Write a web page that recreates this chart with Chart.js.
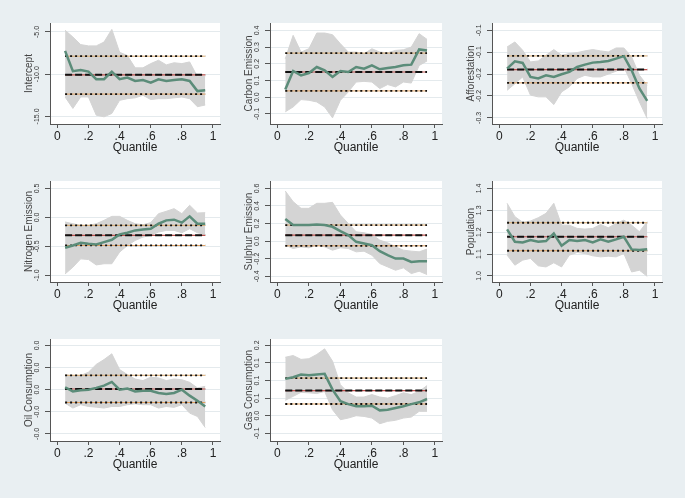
<!DOCTYPE html>
<html>
<head>
<meta charset="utf-8">
<script src="https://cdn.jsdelivr.net/npm/chart.js@4.4.1/dist/chart.umd.min.js"></script>
<style>
  html, body { margin: 0; padding: 0; background: #e9eff2; }
  body { width: 685px; height: 498px; position: relative; overflow: hidden; }
  canvas { position: absolute; }
</style>
</head>
<body>
<script>
// ---- data ----
const quantiles = [0.05, 0.10, 0.15, 0.20, 0.25, 0.30, 0.35, 0.40, 0.45, 0.50,
                   0.55, 0.60, 0.65, 0.70, 0.75, 0.80, 0.85, 0.90, 0.95];
const xTickValues = [0, 0.2, 0.4, 0.6, 0.8, 1];
const xTickLabels = ["0", ".2", ".4", ".6", ".8", "1"];

const titles = ["Intercept", "Carbon Emission", "Afforestation", "Nitrogen Emission",
                "Sulphur Emission", "Population", "Oil Consumption", "Gas Consumption"];

const interceptCoef  = [-7.24, -9.65, -9.5, -9.7, -10.6, -10.6, -9.7, -10.6, -10.4, -10.8, -10.7, -11.0, -10.6, -10.8, -10.7, -10.6, -10.8, -12.0, -11.9];
const interceptUpper = [-4.8, -5.6, -6.5, -6.65, -6.65, -6.2, -4.7, -7.4, -7.8, -9.25, -9.25, -8.75, -8.35, -8.9, -8.65, -8.75, -8.55, -10.3, -10.25];
const interceptLower = [-12.7, -14.05, -12.7, -12.7, -14.85, -15.05, -14.65, -13.1, -12.9, -12.8, -12.5, -13.0, -12.9, -12.9, -12.8, -12.7, -12.9, -13.85, -13.65];

const carbonCoef  = [0.046, 0.157, 0.131, 0.145, 0.181, 0.161, 0.121, 0.157, 0.151, 0.181, 0.171, 0.191, 0.167, 0.175, 0.181, 0.191, 0.195, 0.286, 0.28];
const carbonUpper = [0.23, 0.37, 0.27, 0.29, 0.384, 0.384, 0.374, 0.32, 0.27, 0.27, 0.26, 0.29, 0.27, 0.266, 0.28, 0.284, 0.30, 0.38, 0.346];
const carbonLower = [-0.087, -0.058, -0.014, -0.018, -0.028, -0.058, -0.123, -0.018, 0.032, 0.091, 0.095, 0.091, 0.052, 0.076, 0.062, 0.091, 0.085, 0.19, 0.217];

const forestCoef  = [-0.1375, -0.1207, -0.1245, -0.1565, -0.160, -0.1527, -0.1565, -0.1504, -0.145, -0.1337, -0.1283, -0.1238, -0.1222, -0.12, -0.1146, -0.109, -0.1413, -0.183, -0.2112];
const forestUpper = [-0.088, -0.0766, -0.0956, -0.1222, -0.12, -0.107, -0.094, -0.107, -0.103, -0.101, -0.097, -0.094, -0.097, -0.0995, -0.0903, -0.0903, -0.111, -0.1527, -0.1755];
const forestLower = [-0.187, -0.172, -0.1565, -0.198, -0.202, -0.202, -0.2196, -0.1907, -0.179, -0.160, -0.1527, -0.1565, -0.1565, -0.150, -0.1435, -0.1337, -0.1717, -0.2135, -0.2515];

const nitrogenCoef  = [-0.525, -0.485, -0.44, -0.456, -0.467, -0.427, -0.387, -0.294, -0.265, -0.225, -0.208, -0.196, -0.11, -0.052, -0.04, -0.092, 0.017, -0.11, -0.11];
const nitrogenUpper = [-0.08, -0.11, -0.138, -0.138, -0.11, -0.052, 0.017, 0.017, -0.052, -0.11, -0.127, -0.092, 0.063, 0.104, 0.15, 0.063, 0.208, 0.075, 0.081];
const nitrogenLower = [-0.975, -0.86, -0.716, -0.727, -0.82, -0.80, -0.80, -0.60, -0.485, -0.398, -0.34, -0.31, -0.254, -0.225, -0.225, -0.265, -0.196, -0.265, -0.3];

const sulphurCoef  = [0.251, 0.183, 0.183, 0.183, 0.19, 0.183, 0.163, 0.114, 0.068, -0.008, -0.027, -0.046, -0.114, -0.16, -0.198, -0.198, -0.236, -0.228, -0.228];
const sulphurUpper = [0.57, 0.449, 0.373, 0.373, 0.43, 0.43, 0.441, 0.297, 0.20, 0.106, 0.095, 0.076, 0.011, -0.019, -0.065, -0.103, -0.114, -0.122, -0.091];
const sulphurLower = [-0.046, -0.084, -0.065, -0.076, -0.046, -0.065, -0.103, -0.076, -0.084, -0.122, -0.114, -0.16, -0.255, -0.293, -0.331, -0.304, -0.369, -0.342, -0.38];

const popCoef  = [1.2125, 1.156, 1.153, 1.164, 1.156, 1.159, 1.194, 1.138, 1.164, 1.16, 1.164, 1.153, 1.167, 1.156, 1.167, 1.179, 1.121, 1.118, 1.122];
const popUpper = [1.332, 1.271, 1.245, 1.251, 1.266, 1.286, 1.332, 1.232, 1.232, 1.217, 1.214, 1.217, 1.235, 1.22, 1.24, 1.255, 1.232, 1.202, 1.248];
const popLower = [1.095, 1.049, 1.072, 1.08, 1.046, 1.041, 1.06, 1.041, 1.095, 1.107, 1.102, 1.092, 1.087, 1.09, 1.087, 1.102, 1.018, 1.026, 0.998];

const oilCoef  = [0.0011, -0.0008, -0.0003, 0, 0.0008, 0.0018, 0.0035, 0, 0.0005, -0.0008, -0.0005, -0.0005, -0.0015, -0.002, -0.0015, 0, -0.0027, -0.005, -0.0076];
const oilUpper = [0.0068, 0.0061, 0.0064, 0.0079, 0.0114, 0.0136, 0.0162, 0.0091, 0.0068, 0.0048, 0.0041, 0.0056, 0.0053, 0.0041, 0.0048, 0.0045, 0.0033, 0.0008, 0.0015];
const oilLower = [-0.0061, -0.0083, -0.0068, -0.0076, -0.0079, -0.0083, -0.0076, -0.0076, -0.0068, -0.0064, -0.0068, -0.0068, -0.0083, -0.0076, -0.008, -0.0068, -0.0106, -0.0121, -0.0171];

const gasCoef  = [0.1046, 0.1093, 0.117, 0.115, 0.117, 0.119, 0.074, 0.041, 0.033, 0.027, 0.027, 0.0285, 0.0152, 0.017, 0.022, 0.027, 0.033, 0.038, 0.0475];
const gasUpper = [0.166, 0.171, 0.16, 0.162, 0.174, 0.19, 0.155, 0.088, 0.065, 0.053, 0.053, 0.06, 0.053, 0.05, 0.057, 0.065, 0.06, 0.069, 0.0855];
const gasLower = [0.0437, 0.055, 0.0665, 0.065, 0.063, 0.069, 0.017, -0.0114, -0.0067, 0, -0.002, -0.0067, -0.0228, -0.016, -0.013, -0.0067, -0.0038, 0.0124, 0.0124];

// OLS estimate and its confidence bounds, one per panel
const olsMid   = [-10.08, 0.151, -0.1397, -0.31, 0.068, 1.179, 0.0003, 0.0713];
const olsUpper = [-7.87, 0.264, -0.1085, -0.138, 0.183, 1.243, 0.0065, 0.107];
const olsLower = [-12.36, 0.038, -0.170, -0.485, -0.053, 1.115, -0.0058, 0.0333];

const yMin = [-15.9, -0.16, -0.264, -1.115, -0.465, 0.972, -0.0232, -0.0719];
const yMax = [-3.94, 0.444, -0.0333, 0.627, 0.684, 1.434, 0.0229, 0.218];
const yTickValues = [
  [-5, -10, -15],
  [0.4, 0.3, 0.2, 0.1, 0, -0.1],
  [-0.05, -0.1, -0.15, -0.2, -0.25],
  [0.5, 0, -0.5, -1],
  [0.6, 0.4, 0.2, 0, -0.2, -0.4],
  [1.4, 1.3, 1.2, 1.1, 1.0],
  [0.02, 0.01, 0, -0.01, -0.02],
  [0.2, 0.15, 0.1, 0.05, 0, -0.05]
];
const yTickLabels = [
  ["-5.0", "-10.0", "-15.0"],
  ["0.4", "0.3", "0.2", "0.1", "0.0", "-0.1"],
  ["-0.1", "-0.1", "-0.2", "-0.2", "-0.3"],
  ["0.5", "0.0", "-0.5", "-1.0"],
  ["0.6", "0.4", "0.2", "0.0", "-0.2", "-0.4"],
  ["1.4", "1.3", "1.2", "1.1", "1.0"],
  ["0.0", "0.0", "0.0", "-0.0", "-0.0"],
  ["0.2", "0.1", "0.1", "0.1", "0.0", "-0.1"]
];

const coefs  = [interceptCoef, carbonCoef, forestCoef, nitrogenCoef, sulphurCoef, popCoef, oilCoef, gasCoef];
const uppers = [interceptUpper, carbonUpper, forestUpper, nitrogenUpper, sulphurUpper, popUpper, oilUpper, gasUpper];
const lowers = [interceptLower, carbonLower, forestLower, nitrogenLower, sulphurLower, popLower, oilLower, gasLower];

// ---- layout: plot area [left, top, right, bottom] of each panel ----
const plotRects = [
  [50, 23, 220, 124], [270, 23, 442, 124], [492, 23, 662, 124],
  [50, 181, 220, 282], [270, 181, 442, 282], [492, 181, 662, 282],
  [50, 339, 220, 441], [270, 339, 442, 441]
];
const AXIS_W = 34, AXIS_H = 34, PAD_T = 8, PAD_R = 6;

const FONT = "'Liberation Sans', Arial, Helvetica, sans-serif";
Chart.defaults.font.family = FONT;

const stataPlugin = {
  id: "stata",
  beforeDraw(chart) {
    const a = chart.chartArea, ctx = chart.ctx;
    ctx.save();
    ctx.fillStyle = "#ffffff";
    ctx.fillRect(a.left, a.top, a.right - a.left, a.bottom - a.top);
    ctx.restore();
  },
  afterDraw(chart, args, opts) {
    // vertical y tick labels, Stata style
    const s = chart.scales.y, ctx = chart.ctx;
    ctx.save();
    ctx.font = "7px " + FONT;
    ctx.fillStyle = "#333";
    ctx.textAlign = "center";
    ctx.textBaseline = "middle";
    s.ticks.forEach((t, i) => {
      ctx.save();
      ctx.translate(s.right - 13, s.getPixelForValue(t.value));
      ctx.rotate(-Math.PI / 2);
      ctx.fillText(opts.labels[i], 0, 0);
      ctx.restore();
    });
    ctx.restore();
  }
};

const pts = arr => arr.map((v, i) => ({ x: quantiles[i], y: v }));
const flat = v => [{ x: quantiles[0], y: v }, { x: quantiles[quantiles.length - 1], y: v }];

titles.forEach((title, i) => {
  const [L, T, R, B] = plotRects[i];
  const cv = document.createElement("canvas");
  const left = L - AXIS_W, top = T - PAD_T;
  const w = R - L + AXIS_W + PAD_R, h = B - T + PAD_T + AXIS_H;
  cv.width = w; cv.height = h;
  cv.style.left = left + "px"; cv.style.top = top + "px";
  cv.style.width = w + "px"; cv.style.height = h + "px";
  document.body.appendChild(cv);

  const line = { pointRadius: 0, tension: 0, fill: false };
  new Chart(cv, {
    type: "line",
    data: {
      datasets: [
        { ...line, data: pts(coefs[i]), borderColor: "#5b8c79", borderWidth: 2.5 },
        { ...line, data: flat(olsMid[i]), borderColor: "#111", borderWidth: 2, borderDash: [7, 3] },
        { ...line, data: flat(olsMid[i]), borderColor: "#c0504d", borderWidth: 1.2 },
        { ...line, data: flat(olsUpper[i]), borderColor: "#111", borderWidth: 1.8, borderDash: [2, 3] },
        { ...line, data: flat(olsUpper[i]), borderColor: "#d9a86a", borderWidth: 1 },
        { ...line, data: flat(olsLower[i]), borderColor: "#111", borderWidth: 1.8, borderDash: [2, 3] },
        { ...line, data: flat(olsLower[i]), borderColor: "#e0a060", borderWidth: 1 },
        { ...line, data: pts(uppers[i]), borderColor: "#d4d4d4", borderWidth: 1,
          backgroundColor: "#d4d4d4", fill: "+1" },
        { ...line, data: pts(lowers[i]), borderColor: "#d4d4d4", borderWidth: 1 }
      ]
    },
    options: {
      responsive: false,
      animation: false,
      devicePixelRatio: 1,
      layout: { padding: { left: 0, top: PAD_T, right: PAD_R, bottom: 0 } },
      plugins: {
        legend: { display: false },
        tooltip: { enabled: false },
        stata: { labels: yTickLabels[i] }
      },
      scales: {
        x: {
          type: "linear", min: -0.047, max: 1.045,
          afterBuildTicks: s => { s.ticks = xTickValues.map(v => ({ value: v })); },
          afterFit: s => { s.height = AXIS_H; },
          ticks: { callback: (v, idx) => xTickLabels[idx], font: { size: 12 }, color: "#222",
                   padding: 1, maxRotation: 0, autoSkip: false },
          grid: { drawOnChartArea: false, drawTicks: true, tickLength: 4, color: "#555" },
          border: { display: true, color: "#555", width: 1 },
          title: { display: true, text: "Quantile", font: { size: 12 }, color: "#222",
                   padding: { top: 0, bottom: 3 } }
        },
        y: {
          type: "linear", min: yMin[i], max: yMax[i],
          afterBuildTicks: s => { s.ticks = yTickValues[i].map(v => ({ value: v })); },
          afterFit: s => { s.width = AXIS_W; },
          ticks: { display: false },
          grid: { color: "#e4eaed", tickColor: "#555", drawTicks: true, tickLength: 5 },
          border: { display: true, color: "#555", width: 1 },
          title: { display: true, text: title, font: { size: 10 }, color: "#444",
                   padding: { top: 7, bottom: 0 } }
        }
      }
    },
    plugins: [stataPlugin]
  });
});
</script>
</body>
</html>
